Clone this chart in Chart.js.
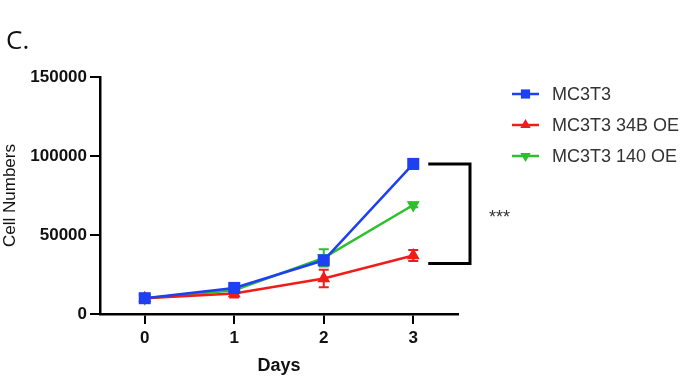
<!DOCTYPE html>
<html>
<head>
<meta charset="utf-8">
<script src="https://cdn.jsdelivr.net/npm/chart.js@4.4.0/dist/chart.umd.min.js"></script>
<style>
  html, body { margin: 0; padding: 0; background: #fff; }
  #wrap { width: 688px; height: 379px; position: relative; }
</style>
</head>
<body>
<div id="wrap"><canvas id="growthChart"></canvas></div>
<script>
// values
const days = [0, 1, 2, 3];
const seriesNames = ['MC3T3', 'MC3T3 34B OE', 'MC3T3 140 OE'];
const mc3t3 = [10000, 16500, 34000, 95000];
const mc3t3Err = [1000, 2000, 2500, 3000];
const oe34b = [10000, 13000, 22500, 37000];
const oe34bErr = [1000, 2500, 5500, 3500];
const oe140 = [10000, 15000, 35500, 69000];
const oe140Err = [1000, 2000, 5500, 1500];
const yTicks = [0, 50000, 100000, 150000];
const xTicks = [0, 1, 2, 3];

const colors = ['#1f3ff2', '#f01c1c', '#2cc02c'];
const pointStyles = ['rect', 'triangle', 'triangle'];
const rotations = [0, 0, 180];
const errs = [mc3t3Err, oe34bErr, oe140Err];
const FONT = '"Liberation Sans", Arial, sans-serif';

function toPoints(vals) {
    return days.map((d, i) => ({ x: d, y: vals[i] }));
}

// error bars drawn under the markers
const errorBars = {
    id: 'errorBars',
    beforeDatasetsDraw(chart) {
        const ctx = chart.ctx;
        const yScale = chart.scales.y;
        chart.data.datasets.forEach((ds, di) => {
            const meta = chart.getDatasetMeta(di);
            meta.data.forEach((pt, i) => {
                const v = ds.data[i].y;
                const e = errs[di][i];
                const yTop = yScale.getPixelForValue(v + e);
                const yBot = yScale.getPixelForValue(v - e);
                ctx.save();
                ctx.strokeStyle = ds.borderColor;
                ctx.lineWidth = 2;
                ctx.beginPath();
                ctx.moveTo(pt.x, yTop);
                ctx.lineTo(pt.x, yBot);
                ctx.moveTo(pt.x - 5, yTop);
                ctx.lineTo(pt.x + 5, yTop);
                ctx.moveTo(pt.x - 5, yBot);
                ctx.lineTo(pt.x + 5, yBot);
                ctx.stroke();
                ctx.restore();
            });
        });
    }
};

// legend, bracket, panel letter
const extras = {
    id: 'extras',
    afterDraw(chart) {
        const ctx = chart.ctx;
        const x = chart.scales.x;
        const y = chart.scales.y;
        ctx.save();

        // panel letter
        ctx.fillStyle = '#111';
        ctx.font = '26px "Open Sans"';
        ctx.textAlign = 'left';
        ctx.textBaseline = 'middle';
        ctx.fillText('C.', 6, 42);

        // legend
        chart.data.datasets.forEach((ds, i) => {
            const ly = 94 + i * 31;
            ctx.strokeStyle = ds.borderColor;
            ctx.fillStyle = ds.borderColor;
            ctx.lineWidth = 2.5;
            ctx.beginPath();
            ctx.moveTo(512, ly);
            ctx.lineTo(539, ly);
            ctx.stroke();
            Chart.helpers.drawPoint(ctx, {
                pointStyle: pointStyles[i],
                rotation: rotations[i],
                radius: i === 0 ? 6.5 : 6,
                borderWidth: 0
            }, 525.5, ly);
            ctx.fillStyle = '#333';
            ctx.font = '18px ' + FONT;
            ctx.textAlign = 'left';
            ctx.textBaseline = 'middle';
            ctx.fillText(ds.label, 552, ly + 1);
        });

        // significance bracket between MC3T3 and 34B OE on day 3
        const xd = x.getPixelForValue(3);
        const top = y.getPixelForValue(mc3t3[3]);
        const bot = y.getPixelForValue(oe34b[3] - oe34bErr[3] - 1500);
        const xr = chart.chartArea.right + 12;
        ctx.strokeStyle = '#000';
        ctx.lineWidth = 3;
        ctx.beginPath();
        ctx.moveTo(xd + 15, top);
        ctx.lineTo(xr, top);
        ctx.lineTo(xr, bot);
        ctx.lineTo(xd + 15, bot);
        ctx.stroke();
        ctx.fillStyle = '#333';
        ctx.font = '18px ' + FONT;
        ctx.textAlign = 'left';
        ctx.textBaseline = 'middle';
        ctx.fillText('***', xr + 19, (top + bot) / 2 + 4);
        ctx.restore();
    }
};

function build() {
    const ctx = document.getElementById('growthChart').getContext('2d');
    new Chart(ctx, {
        type: 'line',
        data: {
            datasets: [mc3t3, oe34b, oe140].map((vals, i) => ({
                label: seriesNames[i],
                data: toPoints(vals),
                borderColor: colors[i],
                backgroundColor: colors[i],
                borderWidth: 2.5,
                pointStyle: pointStyles[i],
                pointRotation: rotations[i],
                pointRadius: i === 0 ? 8.5 : 7.5,
                pointBorderWidth: 0,
                tension: 0,
                clip: false
            }))
        },
        options: {
            responsive: true,
            maintainAspectRatio: false,
            animation: false,
            layout: { padding: { top: 77, right: 230, left: 0, bottom: 0 } },
            plugins: {
                legend: { display: false },
                tooltip: { enabled: false }
            },
            scales: {
                x: {
                    type: 'linear',
                    min: -0.5,
                    max: 3.5,
                    afterBuildTicks: (s) => { s.ticks = xTicks.map(v => ({ value: v })); },
                    afterFit: (s) => { s.height = 65; },
                    border: { display: true, color: '#000', width: 2.5 },
                    grid: { drawOnChartArea: false, drawTicks: true, tickLength: 10, color: '#000', lineWidth: 2 },
                    ticks: {
                        color: '#111',
                        padding: 4,
                        maxRotation: 0,
                        callback: (v) => String(v),
                        font: { family: FONT, size: 17, weight: 'bold' }
                    },
                    title: {
                        display: true,
                        text: 'Days',
                        color: '#111',
                        padding: { top: 0, bottom: 2 },
                        font: { family: FONT, size: 18, weight: 'bold' }
                    }
                },
                y: {
                    min: 0,
                    max: 150000,
                    afterBuildTicks: (s) => { s.ticks = yTicks.map(v => ({ value: v })); },
                    afterFit: (s) => { s.width = 100; },
                    border: { display: true, color: '#000', width: 2.5 },
                    grid: { drawOnChartArea: false, drawTicks: true, tickLength: 10, color: '#000', lineWidth: 2 },
                    ticks: {
                        color: '#111',
                        padding: 3,
                        callback: (v) => String(v),
                        font: { family: FONT, size: 17, weight: 'bold' }
                    },
                    title: {
                        display: true,
                        text: 'Cell Numbers',
                        color: '#111',
                        padding: 0,
                        font: { family: FONT, size: 17 }
                    }
                }
            }
        },
        plugins: [errorBars, extras]
    });
}

Promise.all([
    document.fonts.load('17px "Liberation Sans"'),
    document.fonts.load('bold 17px "Liberation Sans"'),
    document.fonts.load('26px "Open Sans"')
]).then(build, build);
</script>
</body>
</html>
